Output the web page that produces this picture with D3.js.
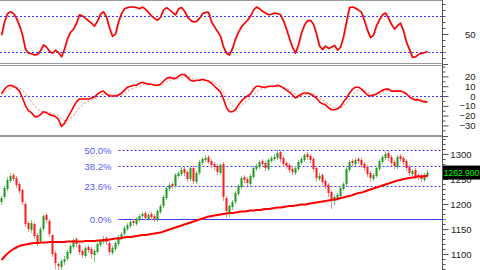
<!DOCTYPE html>
<html><head><meta charset="utf-8">
<script src="https://cdn.jsdelivr.net/npm/d3@7"></script>
<style>html,body{margin:0;padding:0;background:#fff;overflow:hidden}svg{display:block}text{font-family:"Liberation Sans",Arial,sans-serif}</style>
</head><body><svg id="c" width="480" height="270"></svg>
<script>
// ---- DATA ----
const opens = [1204,1214,1230,1246,1258,1252,1240,1228,1200,1162,1148,1160,1138,1126,1150,1178,1166,1138,1102,1080,1074,1084,1090,1102,1114,1130,1118,1106,1096,1114,1110,1098,1104,1118,1124,1132,1122,1102,1110,1120,1132,1140,1150,1156,1166,1160,1168,1176,1182,1170,1180,1176,1168,1184,1196,1212,1230,1240,1236,1256,1260,1270,1264,1250,1272,1244,1262,1282,1288,1294,1286,1280,1276,1262,1280,1212,1184,1194,1204,1220,1234,1254,1250,1240,1254,1270,1274,1286,1282,1270,1286,1290,1292,1304,1292,1282,1278,1270,1262,1270,1282,1288,1300,1296,1290,1272,1250,1258,1246,1238,1224,1206,1212,1216,1230,1240,1268,1286,1280,1290,1288,1280,1274,1262,1250,1256,1270,1284,1292,1302,1294,1284,1274,1296,1292,1286,1274,1260,1268,1258,1256,1248,1256];
const closes = [1212,1232,1248,1256,1250,1238,1226,1204,1160,1150,1162,1136,1124,1150,1176,1168,1140,1100,1082,1076,1086,1090,1104,1116,1128,1120,1104,1098,1112,1108,1100,1106,1120,1126,1130,1124,1104,1112,1122,1134,1140,1152,1158,1164,1162,1170,1176,1180,1172,1178,1174,1170,1186,1196,1214,1232,1238,1236,1258,1262,1268,1262,1250,1272,1246,1262,1284,1290,1292,1284,1278,1274,1264,1278,1214,1186,1196,1204,1222,1236,1252,1248,1242,1256,1272,1276,1284,1280,1272,1288,1292,1294,1302,1290,1280,1276,1268,1264,1272,1284,1290,1298,1294,1288,1270,1252,1256,1244,1236,1222,1208,1214,1218,1232,1240,1270,1284,1282,1288,1286,1278,1272,1260,1252,1258,1272,1286,1294,1300,1292,1282,1276,1294,1290,1284,1272,1262,1266,1256,1254,1250,1258,1262.9];
const highs = [1216,1236,1254,1262,1262,1256,1244,1230,1204,1166,1168,1164,1142,1154,1180,1182,1170,1140,1106,1084,1090,1096,1108,1120,1132,1134,1122,1110,1116,1118,1114,1110,1124,1130,1136,1136,1126,1116,1126,1138,1144,1156,1162,1168,1170,1174,1180,1184,1186,1182,1184,1180,1190,1200,1218,1236,1242,1244,1262,1266,1274,1274,1268,1276,1276,1266,1288,1294,1298,1298,1290,1284,1280,1282,1284,1216,1200,1208,1226,1240,1256,1258,1254,1260,1276,1280,1288,1290,1286,1292,1296,1300,1308,1306,1296,1286,1282,1274,1276,1288,1294,1302,1304,1300,1294,1276,1262,1262,1250,1242,1228,1218,1222,1236,1244,1274,1288,1290,1292,1294,1292,1284,1278,1266,1262,1276,1290,1298,1306,1306,1298,1288,1298,1300,1296,1290,1278,1270,1272,1262,1260,1262,1268];
const lows = [1198,1210,1226,1242,1246,1232,1220,1198,1154,1144,1142,1130,1116,1122,1146,1162,1134,1094,1070,1066,1068,1078,1086,1098,1110,1114,1098,1092,1092,1102,1090,1084,1100,1114,1120,1118,1098,1098,1106,1116,1128,1136,1146,1152,1156,1156,1164,1172,1168,1166,1168,1164,1164,1180,1192,1208,1226,1230,1232,1252,1256,1256,1244,1246,1240,1240,1258,1278,1284,1280,1272,1268,1258,1258,1206,1172,1174,1188,1200,1216,1230,1242,1236,1236,1250,1266,1270,1274,1266,1266,1282,1286,1288,1284,1274,1270,1262,1258,1258,1266,1278,1284,1288,1282,1264,1246,1246,1238,1230,1214,1190,1198,1206,1212,1226,1236,1264,1276,1276,1280,1272,1266,1254,1244,1246,1252,1266,1280,1288,1286,1276,1270,1270,1284,1278,1266,1256,1256,1250,1248,1244,1244,1252];
const movingAvg = [1088,1095,1101,1106,1110,1113,1116,1118,1119,1120,1121,1122,1122,1123,1123,1123,1124,1124,1124,1124,1124,1124,1125,1125,1125,1125,1125,1125,1126,1126,1126,1126,1127,1127,1128,1128,1129,1130,1131,1131,1132,1133,1134,1134,1135,1136,1137,1138,1138,1139,1140,1141,1142,1143,1145,1147,1149,1151,1153,1155,1157,1159,1161,1163,1165,1167,1169,1171,1173,1175,1176,1177,1178,1179,1180,1181,1182,1182,1183,1184,1185,1185,1186,1187,1187,1188,1188,1189,1190,1190,1191,1192,1193,1193,1194,1195,1196,1196,1197,1198,1199,1199,1200,1201,1202,1203,1204,1205,1206,1207,1208,1209,1210,1212,1213,1215,1216,1218,1220,1222,1223,1225,1227,1229,1231,1233,1235,1237,1239,1241,1243,1245,1247,1248,1250,1251,1252,1253,1254,1255,1255,1256,1256];
const stoch = [48,70,84,87,84,76,64,48,24,18,17,15,16,22,32,28,21,18,23,19,12,25,42,53,58,68,82,80,76,72,68,63,72,83,87,78,60,46,50,70,84,92,94,95,95,94,92,95,91,86,80,76,73,78,90,94,90,86,82,92,94,88,78,73,70,71,76,84,86,86,70,62,54,46,28,18,15,26,42,53,62,68,73,80,90,95,92,88,85,82,83,85,84,82,72,58,42,28,18,32,52,65,72,73,66,50,30,24,30,26,28,31,23,28,45,70,94,95,93,90,86,72,56,44,48,64,74,82,85,76,66,58,64,68,55,36,24,11,12,16,18,19,21];
const macd = [2,7,10,11,10,8,5,-2,-10,-15,-17,-21,-21,-19,-16,-17,-19,-20,-21,-24,-31,-28,-22,-17,-11,-6,-3,-3,-3,-3,-2,-1,2,4,5,2,0,0,0,1,3,6,9,10,11,11,13,14,13,12,12,11,11,12,15,18,19,18,18,20,22,22,19,16,15,16,16,17,16,15,13,10,7,4,-3,-12,-16,-16,-14,-9,-5,-2,0,2,7,10,10,9,9,10,10,10,11,10,8,6,4,1,-2,0,2,3,3,2,0,-2,-6,-8,-9,-12,-14,-14,-13,-11,-6,-2,3,7,9,9,7,4,1,0,1,2,4,6,7,7,5,5,5,5,4,2,-1,-3,-4,-4,-5,-6,-6];
const macdSignal = [3,4,6,8,9,9,8,6,2,-2,-6,-10,-13,-15,-16,-16,-17,-18,-19,-20,-23,-25,-25,-23,-20,-16,-12,-9,-7,-5,-4,-3,-2,0,2,2,2,1,1,1,1,3,5,7,8,9,10,12,12,12,12,12,11,11,12,14,16,17,17,18,19,20,20,19,17,16,16,16,16,16,15,13,11,8,4,-1,-6,-10,-12,-12,-10,-7,-4,-2,1,4,6,8,8,9,9,10,10,10,9,8,6,4,2,0,0,1,2,2,2,1,-2,-4,-6,-8,-10,-12,-13,-12,-10,-7,-3,1,4,6,7,6,4,2,1,1,2,4,5,6,6,5,5,5,4,3,1,-1,-2,-3,-4,-5,-5];
const stochLevels = [20, 80];
const stochTicks = [50];
const macdTicks = [20, 10, 0, -10, -20, -30];
const priceTicks = [1100, 1150, 1200, 1250, 1300];
const fibLabels = ["0.0%", "23.6%", "38.2%", "50.0%"];
const fibRatios = [0, 0.236, 0.382, 0.5];
const fibLow = 1169.4, fibHigh = 1447.8;
const fibStartBar = 39;
const lastPriceLabel = "1262.900";
const lastPrice = 1262.9;

// ---- CHART ----
const svg = d3.select("#c");
const W = 442;
const n = closes.length;
const x = d3.scaleLinear().domain([0, n]).range([0, n * 3]);
const xc = i => x(i + 0.5);

const P1 = {top: 1, bot: 63}, P2 = {top: 66, bot: 135}, P3 = {top: 137, bot: 270};
const yS = d3.scaleLinear().domain([0, 100]).range([64, 4]);
const yM = d3.scaleLinear().domain([-40, 30]).range([135.2, 66.6]);
const yP = d3.scaleLinear().domain([1100, 1300]).range([254, 154]);

const defs = svg.append("defs");
[["c1",P1],["c2",P2],["c3",P3]].forEach(([id,p]) => {
  defs.append("clipPath").attr("id", id).append("rect").attr("x",0).attr("y",p.top).attr("width",W).attr("height",p.bot-p.top);
});

const blue = "#3a3aff";
// panel borders
[P1.top - 0.5, P1.bot + 0.5, P2.top - 0.5, P2.bot + 0.5, P3.top - 0.5].forEach(yy => {
  svg.append("line").attr("x1",0).attr("x2",W).attr("y1",yy).attr("y2",yy).attr("stroke","#9a9a9a").attr("stroke-width",1);
});

// --- panel 1: stochastic
const g1 = svg.append("g").attr("clip-path","url(#c1)");
stochLevels.forEach(v => g1.append("line").attr("x1",0).attr("x2",W).attr("y1",Math.round(yS(v))+0.5).attr("y2",Math.round(yS(v))+0.5)
  .attr("stroke",blue).attr("stroke-dasharray","2,2"));
const lineS = d3.line().x((d,i)=>xc(i)).y(d=>yS(d));
g1.append("path").datum(stoch).attr("d", d3.line().x((d,i)=>xc(i)+1).y(d=>yS(d)))
  .attr("fill","none").attr("stroke","#8a8a8a").attr("stroke-width",1).attr("stroke-dasharray","1,1");
g1.append("path").datum(stoch).attr("d", lineS).attr("fill","none").attr("stroke","#ff0000").attr("stroke-width",1.6)
  .attr("stroke-linejoin","round");

// --- panel 2: macd
const g2 = svg.append("g").attr("clip-path","url(#c2)");
g2.append("line").attr("x1",0).attr("x2",W).attr("y1",Math.round(yM(0))+0.5).attr("y2",Math.round(yM(0))+0.5).attr("stroke",blue).attr("stroke-dasharray","2,2");
const lineM = d3.line().x((d,i)=>xc(i)).y(d=>yM(d));
g2.append("path").datum(macdSignal).attr("d", lineM).attr("fill","none").attr("stroke","#ff7a7a").attr("stroke-width",1).attr("stroke-dasharray","2,2");
g2.append("path").datum(macd).attr("d", lineM).attr("fill","none").attr("stroke","#ff0000").attr("stroke-width",1.6).attr("stroke-linejoin","round");

// --- panel 3: price
const g3 = svg.append("g").attr("clip-path","url(#c3)");
const x0 = xc(fibStartBar);
fibRatios.forEach((r, k) => {
  const v = fibLow + r * (fibHigh - fibLow);
  const yy = Math.round(yP(v)) + 0.5;
  g3.append("line").attr("x1", x0).attr("x2", W).attr("y1", yy).attr("y2", yy)
    .attr("stroke", blue).attr("stroke-width", 1).attr("stroke-dasharray", r === 0 ? null : "2,2");
  g3.append("text").attr("x", x0 - 7).attr("y", yy + 3.5).attr("text-anchor","end")
    .attr("fill", "#5a5aff").attr("font-size", "9.5px").text(fibLabels[k]);
});
// candles
const cg = g3.append("g");
closes.forEach((c, i) => {
  const o = opens[i], up = c >= o;
  const col = up ? "#1e9a1e" : "#ff1a1a";
  const wick = up ? "#7cc87c" : "#ff8a8a";
  cg.append("line").attr("x1", xc(i)).attr("x2", xc(i)).attr("y1", yP(highs[i])).attr("y2", yP(lows[i]))
    .attr("stroke", wick).attr("stroke-width", 1);
  const top = yP(Math.max(o, c)), bot = yP(Math.min(o, c));
  cg.append("rect").attr("x", xc(i) - 1).attr("y", top).attr("width", 2).attr("height", Math.max(1, bot - top)).attr("fill", col);
});
g3.append("path").datum(movingAvg).attr("d", d3.line().x((d,i)=>xc(i)).y(d=>yP(d)).curve(d3.curveMonotoneX))
  .attr("fill","none").attr("stroke","#ff0000").attr("stroke-width",2);

// --- right axis
svg.append("line").attr("x1",W+0.5).attr("x2",W+0.5).attr("y1",0).attr("y2",270).attr("stroke","#555");
function minorTicks(scale, vals){
  const ax = svg.append("g").attr("transform",`translate(${W+0.5},0)`)
    .call(d3.axisRight(scale).tickValues(vals).tickSize(3).tickFormat(""));
  ax.select(".domain").remove();
  ax.selectAll("line").attr("stroke","#555");
}
function majorTicks(scale, vals, fmt, lx){
  const ax = svg.append("g").attr("transform",`translate(${W+0.5},0)`)
    .call(d3.axisRight(scale).tickValues(vals).tickSize(6).tickFormat(fmt));
  ax.select(".domain").remove();
  ax.selectAll("line").attr("stroke","#555");
  ax.selectAll("text").attr("x", lx).attr("text-anchor","end").attr("font-size","9.5px").attr("fill","#222")
    .attr("font-family",'"Liberation Sans",Arial,sans-serif');
}
minorTicks(yS, d3.range(10, 101, 10).filter(v=>v!==50));
majorTicks(yS, stochTicks, d3.format("d"), 33);
minorTicks(yM, d3.range(-35, 31, 5).filter(v=>!macdTicks.includes(v)));
majorTicks(yM, macdTicks, d3.format("d"), 33);
minorTicks(yP, d3.range(1070, 1331, 10).filter(v=>!priceTicks.includes(v)));
majorTicks(yP, priceTicks, d3.format("d"), 29);
// panel separators on axis side
[P1.bot + 1, P2.bot + 1].forEach(yy => svg.append("line").attr("x1",W).attr("x2",W+6).attr("y1",yy+0.5).attr("y2",yy+0.5).attr("stroke","#555"));

// last price label
const ly = yP(lastPrice);
svg.append("rect").attr("x", W + 1).attr("y", ly - 7).attr("width", 37).attr("height", 14).attr("fill", "#000");
svg.append("text").attr("x", W + 19.5).attr("y", ly + 3).attr("text-anchor","middle").attr("fill","#00ff00")
  .attr("font-size","8.5px").text(lastPriceLabel);
</script></body></html>
